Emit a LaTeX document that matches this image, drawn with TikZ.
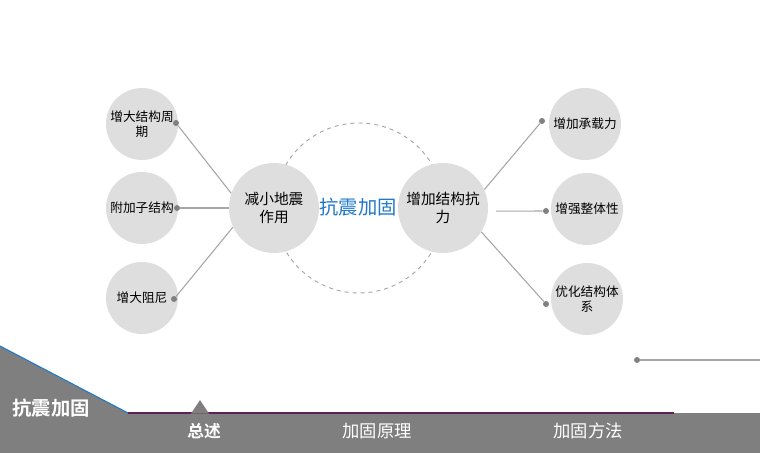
\documentclass[tikz,border=0pt]{standalone}
\usepackage{fontspec}
\setmainfont{Noto Sans CJK SC}[BoldFont={Noto Sans CJK SC Bold}]
\usepackage{tikz}

\definecolor{bubble}{HTML}{DEDEDE}
\definecolor{wire}{HTML}{A6A6A6}
\definecolor{pin}{HTML}{808080}
\definecolor{bar}{HTML}{7F7F7F}
\definecolor{keyblue}{HTML}{1F78C8}
\definecolor{plum}{HTML}{5E2150}

\tikzset{
  leaf/.style={circle,fill=bubble,minimum size=54pt,inner sep=0pt,align=center,font=\fontsize{9.5}{11}\selectfont},
  hub/.style={circle,fill=bubble,minimum size=67.5pt,inner sep=0pt,align=center,font=\fontsize{11}{13}\selectfont},
  pinpt/.style={circle,fill=pin,inner sep=0pt,minimum size=4.5pt},
  wireline/.style={draw=wire,line width=0.8pt},
  tab/.style={text=white,font=\fontsize{13}{15}\selectfont}
}

\begin{document}
\begin{tikzpicture}[x=0.75pt,y=-0.75pt]
  \useasboundingbox (0,0) rectangle (760,453);

  % dashed ring behind the two hubs
  \draw[wire,dashed,line width=0.7pt] (359,208) circle (85);

  % hubs
  \node[hub] (ml) at (274,208) {减小地震\\作用};
  \node[hub] (mr) at (443,208) {增加结构抗\\力};
  \node[text=keyblue,font=\fontsize{14.5}{16}\selectfont] (key) at (358,207) {抗震加固};

  % left leaves
  \node[leaf] (l1) at (142,124) {增大结构周\\期};
  \node[leaf] (l2) at (142,208) {附加子结构};
  \node[leaf] (l3) at (142,298) {增大阻尼};

  % right leaves
  \node[leaf] (r1) at (585,124) {增加承载力};
  \node[leaf] (r2) at (587,209) {增强整体性};
  \node[leaf] (r3) at (587,299) {优化结构体\\系};

  % pins
  \node[pinpt] (p1) at (176,123) {};
  \node[pinpt] (p2) at (177,208) {};
  \node[pinpt] (p3) at (174,299) {};
  \node[pinpt] (q1) at (542,121) {};
  \node[pinpt] (q2) at (546,211) {};
  \node[pinpt] (q3) at (546,304) {};
  \node[pinpt] (q4) at (637,360) {};
  \coordinate (q4end) at (760,360);

  % connectors
  \draw[wireline] (ml.161) -- (p1);
  \draw[wireline] (ml.west) -- (p2);
  \draw[wireline] (ml.205) -- (p3);
  \draw[wireline] (mr.24) -- (q1);
  \draw[wireline,shorten <=6pt] (mr.-4) -- (q2);
  \draw[wireline] (mr.-32) -- (q3);
  \draw[wireline] (q4) -- (q4end);

  %Bottom bar:
  \fill[bar] (0,413) rectangle (760,453);
  \fill[bar] (0,346) -- (128,413) -- (0,413) -- cycle;
  \draw[keyblue,line width=0.8pt] (0,346) -- (128,413);
  \draw[plum,line width=0.9pt] (128,413) -- (674,413);
  \fill[bar] (191,413.5) -- (200,400) -- (209,413.5) -- cycle;

  \node[tab,font=\fontsize{14.5}{16}\selectfont\bfseries] (title) at (51,408) {抗震加固};
  \node[tab,font=\fontsize{12.5}{14}\selectfont\bfseries] (t1) at (204,431) {总述};
  \node[tab] (t2) at (377,431) {加固原理};
  \node[tab] (t3) at (588,431) {加固方法};
\end{tikzpicture}
\end{document}
